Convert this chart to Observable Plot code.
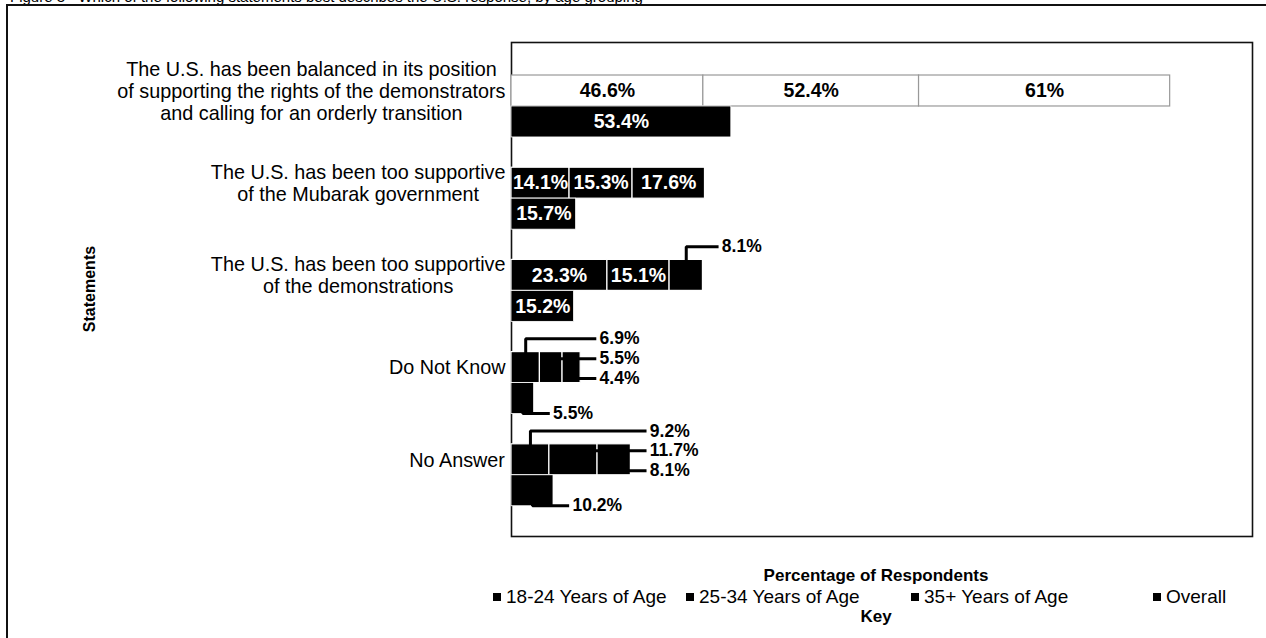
<!DOCTYPE html>
<html><head><meta charset="utf-8">
<script src="https://cdn.jsdelivr.net/npm/d3@7"></script>
<script src="https://cdn.jsdelivr.net/npm/@observablehq/plot@0.6"></script>
<style>
body{margin:0;background:#fff;}
#wrap{position:relative;width:1266px;height:638px;overflow:hidden;font-family:"Liberation Sans",Arial,sans-serif;color:#000;background:#fff;}
#chart{position:absolute;left:0;top:0;}
.border{position:absolute;left:6px;top:4px;width:1300px;height:700px;border-left:2px solid #111;border-top:2px solid #111;pointer-events:none;}
.caption{position:absolute;left:10px;top:-12px;font-size:15px;white-space:nowrap;}
.xlabel{position:absolute;left:876px;top:566px;transform:translateX(-50%);font-weight:bold;font-size:17px;white-space:nowrap;}
.key{position:absolute;left:876px;top:607px;transform:translateX(-50%);font-weight:bold;font-size:17px;}
.ylabel{position:absolute;left:90px;top:289px;transform:translate(-50%,-50%) rotate(-90deg);font-weight:bold;font-size:16px;white-space:nowrap;}
.leg{position:absolute;top:586px;font-size:19px;white-space:nowrap;}
.leg i{display:inline-block;width:8px;height:8px;background:#000;margin-right:5px;vertical-align:middle;position:relative;top:-1px;}
</style>
</head><body>
<div id="wrap">
  <div class="caption">Figure 3 - Which of the following statements best describes the U.S. response, by age grouping</div>
  <div id="chart"></div>
  <div class="border"></div>
  <div class="ylabel">Statements</div>
  <div class="xlabel">Percentage of Respondents</div>
  <div id="legend"></div>
  <div class="key">Key</div>
</div>
<script>
// ---- data ----
const statements = [
  "The U.S. has been balanced in its position\nof supporting the rights of the demonstrators\nand calling for an orderly transition",
  "The U.S. has been too supportive\nof the Mubarak government",
  "The U.S. has been too supportive\nof the demonstrations",
  "Do Not Know",
  "No Answer"
];
const groups = ["18-24 Years of Age", "25-34 Years of Age", "35+ Years of Age", "Overall"];
const age18to24 = [46.6, 14.1, 23.3, 6.9, 9.2];
const age25to34 = [52.4, 15.3, 15.1, 5.5, 11.7];
const age35plus = [61, 17.6, 8.1, 4.4, 8.1];
const overall   = [53.4, 15.7, 15.2, 5.5, 10.2];

// ---- derived tables ----
const H = 0.336;          // half of a statement's band (in y units)
const gapU = 4.6;         // gap between a bar end and an outside label (x units)
const inside = v => v >= 12;
const fmt = d => `${d.value}%`;

const ageSeries = [age18to24, age25to34, age35plus];
const ageRows = [];
statements.forEach((s, i) => {
  let acc = 0, j = 0;
  const total = ageSeries.reduce((a, arr) => a + arr[i], 0);
  ageSeries.forEach((arr, k) => {
    const v = arr[i];
    const row = {i, k, group: groups[k], value: v, x1: acc, x2: acc + v, total};
    if (!inside(v)) { row.j = j++; }
    ageRows.push(row);
    acc += v;
  });
});
const overallRows = statements.map((s, i) => ({i, group: groups[3], value: overall[i]}));

const ageIn = ageRows.filter(d => inside(d.value));
const ageOut = ageRows.filter(d => !inside(d.value));
const ovIn = overallRows.filter(d => inside(d.value));
const ovOut = overallRows.filter(d => !inside(d.value));
const outY = d => d.i - 0.48 + d.j * 0.215;
const ovOutY = d => d.i + 0.33;

// centred lines inside a right-aligned block
const ctx = document.createElement("canvas").getContext("2d");
ctx.font = "19.8px 'Liberation Sans', Arial, sans-serif";
const blockW = s => Math.max(...s.split("\n").map(l => ctx.measureText(l).width));

const labelFont = {fontFamily: "'Liberation Sans', Arial, sans-serif", fontWeight: "bold", fontSize: 19.5};
const outFont = {...labelFont, fontSize: 17.5};

const catMarks = statements.map((s, i) => Plot.text([{s, i}], {
  x: () => 0, y: d => d.i - 0.17, text: "s",
  textAnchor: "middle", lineAnchor: "middle", lineHeight: 1.1,
  dx: -6 - blockW(s) / 2, fontSize: 19.8, fill: "black",
  fontFamily: "'Liberation Sans', Arial, sans-serif"
}));

const chart = Plot.plot({
  width: 1266, height: 560,
  marginLeft: 511, marginRight: 14, marginTop: 42, marginBottom: 24,
  style: {background: "transparent", overflow: "visible"},
  x: {domain: [0, 180], axis: null},
  y: {domain: [-0.694, 4.664], reverse: true, axis: null},
  marks: [
    Plot.frame({stroke: "#111", strokeWidth: 1.6}),
    Plot.rect(ageRows, {
      x1: "x1", x2: "x2", y1: d => d.i - H, y2: d => d.i,
      fill: d => d.i === 0 ? "white" : "black",
      stroke: d => d.i === 0 ? "#999" : "white", strokeWidth: 1.2
    }),
    Plot.rect(overallRows, {
      x1: () => 0, x2: "value", y1: d => d.i, y2: d => d.i + H,
      fill: "black", stroke: "white", strokeWidth: 0.8
    }),
    // leaders for outside labels
    Plot.link(ageOut, {
      x1: d => (d.x1 + d.x2) / 2, y1: d => d.i - H / 2,
      x2: d => d.total + gapU - 0.8, y2: outY,
      curve: "step-before", stroke: "black", strokeWidth: 3
    }),
    Plot.link(ovOut, {
      x1: d => d.value / 2, y1: d => d.i + H / 2,
      x2: d => d.value + gapU - 0.8, y2: ovOutY,
      curve: "step-before", stroke: "black", strokeWidth: 3
    }),
    // inside labels
    Plot.text(ageIn, {
      x: d => (d.x1 + d.x2) / 2, y: d => d.i - H / 2, text: fmt,
      fill: d => d.i === 0 ? "black" : "white", ...labelFont
    }),
    Plot.text(ovIn, {
      x: d => d.value / 2, y: d => d.i + H / 2, text: fmt,
      fill: "white", ...labelFont
    }),
    // outside labels
    Plot.text(ageOut, {
      x: d => d.total + gapU, y: outY, text: fmt,
      textAnchor: "start", fill: "black", ...outFont
    }),
    Plot.text(ovOut, {
      x: d => d.value + gapU, y: ovOutY, text: fmt,
      textAnchor: "start", fill: "black", ...outFont
    }),
    ...catMarks
  ]
});
document.getElementById("chart").appendChild(chart);

// legend
const legendLeft = [493, 686, 911, 1153];
const leg = document.getElementById("legend");
groups.forEach((g, k) => {
  const el = document.createElement("div");
  el.className = "leg";
  el.style.left = legendLeft[k] + "px";
  el.innerHTML = `<i></i>${g}`;
  leg.appendChild(el);
});
</script>
</body></html>
